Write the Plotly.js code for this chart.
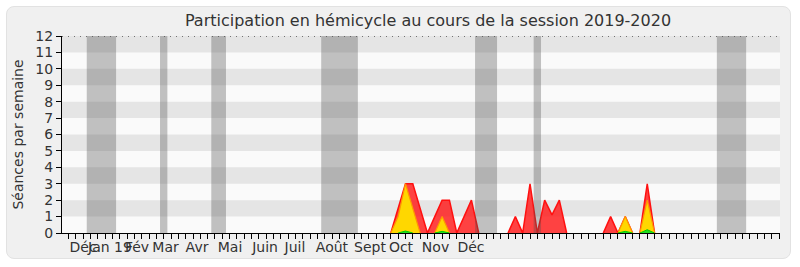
<!DOCTYPE html>
<html>
<head>
<meta charset="utf-8">
<script src="https://cdn.plot.ly/plotly-3.0.1.min.js"></script>
<style>
  html, body { margin: 0; padding: 0; background: #ffffff; }
  #frame { position: absolute; left: 6px; top: 6px; width: 785px; height: 253px;
           background: #f0f0f0; border: 1px solid #e2e2e2; border-radius: 8px; box-sizing: border-box; }
  #chart { position: absolute; left: 0; top: 0; width: 800px; height: 267px; }
</style>
</head>
<body>
<div id="frame"></div>
<div id="chart"></div>
<script>
// ---- data (x = week index on the axis) ----
const monthLabels = ["Déc", "Jan 19", "Fév", "Mar", "Avr", "Mai", "Juin", "Juil", "Août", "Sept", "Oct", "Nov", "Déc"];
const monthWeeks  = [2.0, 5.67, 9.36, 13.25, 17.55, 22.05, 26.83, 30.92, 35.97, 41.16, 45.39, 50.1, 54.94];

const vacationStart = [2.5, 12.5, 19.5, 34.5, 55.5, 63.5, 88.5];
const vacationEnd   = [6.5, 13.5, 21.5, 39.5, 58.5, 64.5, 92.5];

const presenceWeeks  = [44, 45, 46, 47, 48, 49, 50, 51, 52, 53, 54, 55, 56, null, 60, 61, 62, 63, 64, 65, 66, 67, 68, null, 73, 74, 75, 76, 77, null, 78, 79, 80];
const presenceValues = [0, 1.5, 3, 3, 1.5, 0, 1, 2, 2, 0, 1, 2, 0, null, 0, 1, 0, 3, 0, 2, 1.1, 2, 0, null, 0, 1, 0, 1, 0, null, 0, 3, 0];

const interventionWeeks  = [44, 45, 46, 47, 48, null, 50, 51, 52, null, 75, 76, 77, null, 78, 79, 80];
const interventionValues = [0, 1, 3, 1.5, 0, null, 0, 1, 0, null, 0, 1, 0, null, 0, 2, 0];

const questionWeeks  = [45, 46, 47, null, 50, 51, 52, null, 75, 76, 77, null, 78, 79, 80];
const questionValues = [0, 0.12, 0, null, 0, 0.1, 0, null, 0, 0.1, 0, null, 0, 0.2, 0];

const yMax = 12;
const xRange = [-0.88, 97.12];

// ---- traces ----
const traces = [];
traces.push({
  type: 'scatter', mode: 'lines', x: presenceWeeks, y: presenceValues,
  fill: 'tozeroy', fillcolor: 'rgba(255,20,20,0.8)', connectgaps: false,
  line: {color: '#ff1010', width: 1.5}, hoverinfo: 'skip', showlegend: false
});
traces.push({
  type: 'scatter', mode: 'lines', x: interventionWeeks, y: interventionValues,
  fill: 'tozeroy', fillcolor: '#ffd700', connectgaps: false,
  line: {color: '#ff9900', width: 1.2}, hoverinfo: 'skip', showlegend: false
});
traces.push({
  type: 'scatter', mode: 'lines', x: questionWeeks, y: questionValues,
  fill: 'tozeroy', fillcolor: '#22dd22', connectgaps: false,
  line: {color: '#00cc00', width: 1}, hoverinfo: 'skip', showlegend: false
});
for (let i = 0; i < vacationStart.length; i++) {
  const s = vacationStart[i], e = vacationEnd[i];
  traces.push({
    type: 'scatter', mode: 'lines', x: [s, s, e, e, s], y: [0, yMax, yMax, 0, 0],
    fill: 'toself', fillcolor: 'rgba(80,80,80,0.34)', line: {width: 0},
    hoverinfo: 'skip', showlegend: false
  });
}
// dummy trace on xaxis2 so the month label axis is drawn
traces.push({type: 'scatter', mode: 'markers', x: [monthWeeks[0]], y: [0], xaxis: 'x2',
  marker: {opacity: 0}, hoverinfo: 'skip', showlegend: false});

// ---- background stripes ----
const shapes = [];
[1, 3, 5, 7, 9, 11].forEach(k => shapes.push({
  type: 'rect', xref: 'paper', yref: 'y', x0: 0, x1: 1, y0: k, y1: k + 1,
  fillcolor: '#e5e5e5', line: {width: 0}, layer: 'below'
}));
shapes.push({type: 'line', xref: 'paper', yref: 'y', x0: 0, x1: 1, y0: yMax, y1: yMax,
  line: {color: '#000', width: 1, dash: '1px,5px'}, layer: 'below'});

const font = {family: 'DejaVu Sans', size: 14, color: '#333'};

const layout = {
  width: 800, height: 267,
  margin: {l: 62, r: 20, t: 36, b: 34, pad: 0},
  paper_bgcolor: 'rgba(0,0,0,0)', plot_bgcolor: '#fafafa',
  font: font,
  title: {text: 'Participation en hémicycle au cours de la session 2019-2020',
          font: {family: 'DejaVu Sans', size: 16, color: '#333'},
          x: 0.535, xanchor: 'center', y: 0.925, yanchor: 'middle'},
  showlegend: false,
  xaxis: {range: xRange, tick0: 0, dtick: 1, ticks: 'outside', ticklen: 5, tickwidth: 1,
          tickcolor: '#000', showticklabels: false, showgrid: false, zeroline: false,
          showline: true, linecolor: '#000', linewidth: 1, fixedrange: true},
  xaxis2: {range: xRange, overlaying: 'x', anchor: 'y', side: 'bottom',
           tickmode: 'array', tickvals: monthWeeks, ticktext: monthLabels,
           tickangle: 0, ticks: '', showgrid: false, zeroline: false, showline: false,
           ticklabelstandoff: 4, tickfont: font, fixedrange: true},
  yaxis: {range: [0, yMax], tick0: 0, dtick: 1, ticks: 'outside', ticklen: 5, tickwidth: 1,
          tickcolor: '#000', showgrid: false, zeroline: false, showline: true,
          linecolor: '#000', linewidth: 1, tickfont: font,
          title: {text: 'Séances par semaine', font: font, standoff: 8}, fixedrange: true},
  shapes: shapes
};

Plotly.newPlot('chart', traces, layout, {displayModeBar: false, staticPlot: true});
</script>
</body>
</html>
